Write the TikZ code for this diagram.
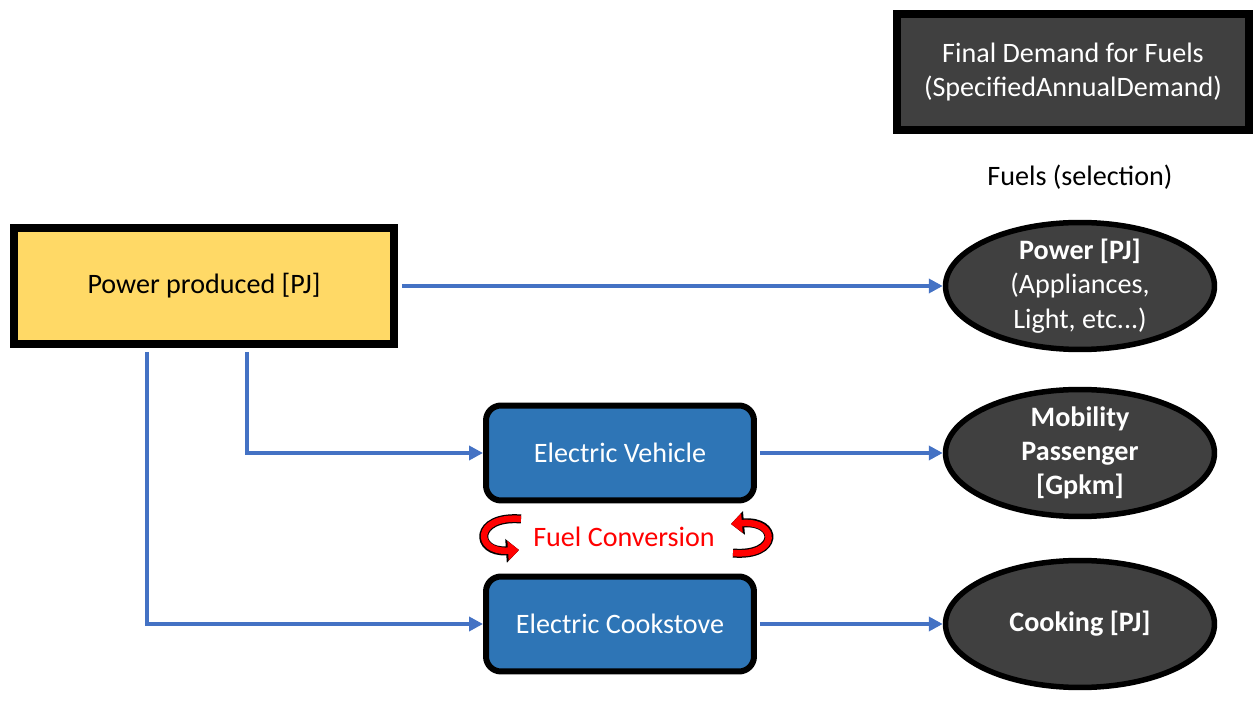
\documentclass[tikz,border=0pt]{standalone}
\usepackage{fontspec}
\setmainfont{Carlito}
\usetikzlibrary{positioning, shapes.geometric, arrows.meta}

\definecolor{sourceyellow}{HTML}{FFD966}
\definecolor{demandgrey}{HTML}{404040}
\definecolor{techblue}{HTML}{2E75B6}
\definecolor{flowblue}{HTML}{4472C4}

\tikzset{
  source/.style={draw=black, line width=0.16cm, fill=sourceyellow, minimum width=7.6cm, minimum height=2.32cm, inner sep=0pt},
  header/.style={draw=black, line width=0.16cm, fill=demandgrey, text=white, minimum width=7.04cm, minimum height=2.32cm, align=center, inner sep=0pt},
  tech/.style={draw=black, line width=0.12cm, rounded corners=0.3cm, fill=techblue, text=white, minimum width=5.36cm, minimum height=1.9cm, inner sep=0pt},
  demand/.style={ellipse, draw=black, line width=0.11cm, fill=demandgrey, text=white, minimum width=5.38cm, minimum height=2.54cm, inner sep=-0.5cm, align=center},
  flow/.style={draw=flowblue, line width=0.075cm, -{Triangle[length=0.28cm, width=0.28cm]}},
  curl/.style={red, line width=0.13cm, -{Triangle[length=0.22cm, width=0.38cm]}, preaction={draw=black, line width=0.18cm, -{Triangle[length=0.26cm, width=0.46cm]}}}
}

\begin{document}
\begin{tikzpicture}[x=0.02cm, y=-0.02cm, font=\fontsize{16pt}{19.5pt}\selectfont]
            \useasboundingbox (0, 0) rectangle (1259, 702);

            \node [source] (Pp) at (204, 286) {Power produced [PJ]};
            \node [header] (Fd) at (1073, 72) {Final Demand for Fuels\\(SpecifiedAnnualDemand)};
            \node (Fs) at (1080, 177) {Fuels (selection)};

            \node [demand] (Dp) at (1080, 286) {\textbf{Power [PJ]}\\(Appliances,\\Light, etc...)};
            \node [demand] (Dm) at (1080, 453) {\textbf{Mobility}\\\textbf{Passenger}\\\textbf{[Gpkm]}};
            \node [demand] (Dc) at (1080, 624) {\textbf{Cooking [PJ]}};

            \node [tech] (Ev) at (620, 453) {Electric Vehicle};
            \node [tech] (Ec) at (620, 624) {Electric Cookstove};
            \node [red] (Fc) at (624, 537) {Fuel Conversion};

            \draw [flow, shorten <=0.08cm] (Pp.east) -- (Dp.west);
            \draw [flow, shorten <=0.08cm] ([xshift=0.86cm]Pp.south) |- (Ev.west);
            \draw [flow, shorten <=0.08cm] ([xshift=-1.14cm]Pp.south) |- (Ec.west);
            \draw [flow, shorten <=0.06cm] (Ev.east) -- (Dm.west);
            \draw [flow, shorten <=0.06cm] (Ec.east) -- (Dc.west);

            % curls around the conversion label
            \coordinate (Cl0) at (521, 519);
            \coordinate (Cl1) at (519, 550);
            \coordinate (Cr0) at (733, 553);
            \coordinate (Cr1) at (731, 524);
            \draw [curl] (Cl0) .. controls (474, 515) and (474, 553) .. (Cl1);
            \draw [curl] (Cr0) .. controls (779, 557) and (779, 520) .. (Cr1);
        \end{tikzpicture}
\end{document}
